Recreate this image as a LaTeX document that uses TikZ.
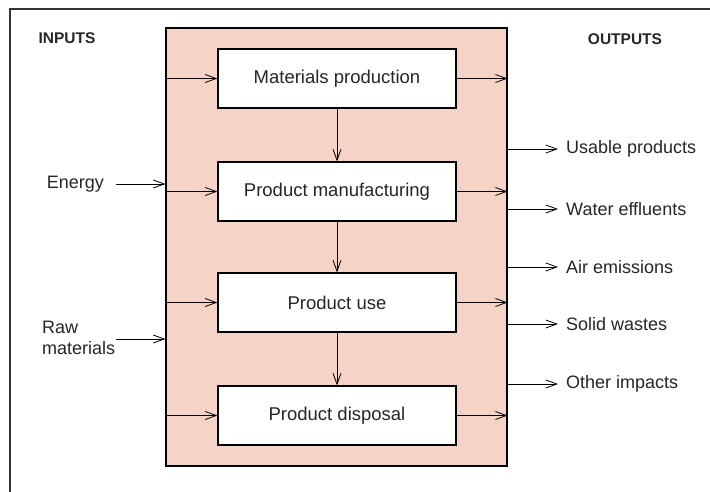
\documentclass[tikz,border=0pt]{standalone}
\usepackage{fontspec}
\setmainfont{Liberation Sans}
\usetikzlibrary{arrows.meta,calc}
\definecolor{pinkfill}{HTML}{F5D3C7}
\definecolor{txt}{HTML}{262626}
\begin{document}
\begin{tikzpicture}[x=1pt,y=-1pt,
  stagebox/.style={draw=black,line width=1.2pt,fill=white,minimum width=238pt,minimum height=59pt,inner sep=0pt,font=\fontsize{18.5}{21}\selectfont,text=txt},
  flow/.style={draw=black,line width=0.8pt,-{Straight Barb[length=11pt,width=8pt,line width=0.8pt]}},
  lab/.style={font=\fontsize{18}{21}\selectfont,text=txt,inner sep=0pt},
  head/.style={font=\bfseries\fontsize{15.5}{18}\selectfont,text=txt,inner sep=0pt}]
\clip (0,0) rectangle (710,491);
\fill[white] (0,0) rectangle (710,491);
% outer frame
\draw[line width=1.3pt,draw=black!80] (10,9) rectangle (730,510);
% system box
\node[draw=black,line width=1.2pt,fill=pinkfill,minimum width=341pt,minimum height=438pt,inner sep=0pt] (sys) at (336.5,247) {};
% stages
\node[stagebox] (m1) at (337,78.5) {Materials production};
\node[stagebox] (m2) at (337,191.5) {Product manufacturing};
\node[stagebox] (m3) at (337,302.5) {Product use};
\node[stagebox] (m4) at (337,415.5) {Product disposal};
% vertical flow
\draw[flow] (m1) -- (m2);
\draw[flow] (m2) -- (m3);
\draw[flow] (m3) -- (m4);
% inputs into stages and outputs from stages
\foreach \m in {m1,m2,m3,m4}{
  \draw[flow] (sys.west |- \m.west) -- (\m.west);
  \draw[flow] (\m.east) -- (sys.east |- \m.east);
}
% headers
\node[head] (inp) at (67,38) {INPUTS};
\node[head] (outp) at (625,39) {OUTPUTS};
% external inputs
\coordinate (eS) at (116,184);
\coordinate (rS) at (116,339);
\node[lab,anchor=east] (energy) at (104,184) {Energy};
\node[lab,anchor=west,align=left] (raw) at (42,338) {Raw\\materials};
\draw[flow] (eS) -- (sys.west |- eS);
\draw[flow] (rS) -- (sys.west |- rS);
% external outputs
\foreach \y/\t/\n in {149/Usable products/o1,209/Water effluents/o2,267/Air emissions/o3,324/Solid wastes/o4,384/Other impacts/o5}{
  \node[lab,anchor=west] (\n) at (566,\y) {\t};
  \coordinate (\n e) at (558,\y);
  \draw[flow] (sys.east |- \n e) -- (\n e);
}
\end{tikzpicture}
\end{document}
